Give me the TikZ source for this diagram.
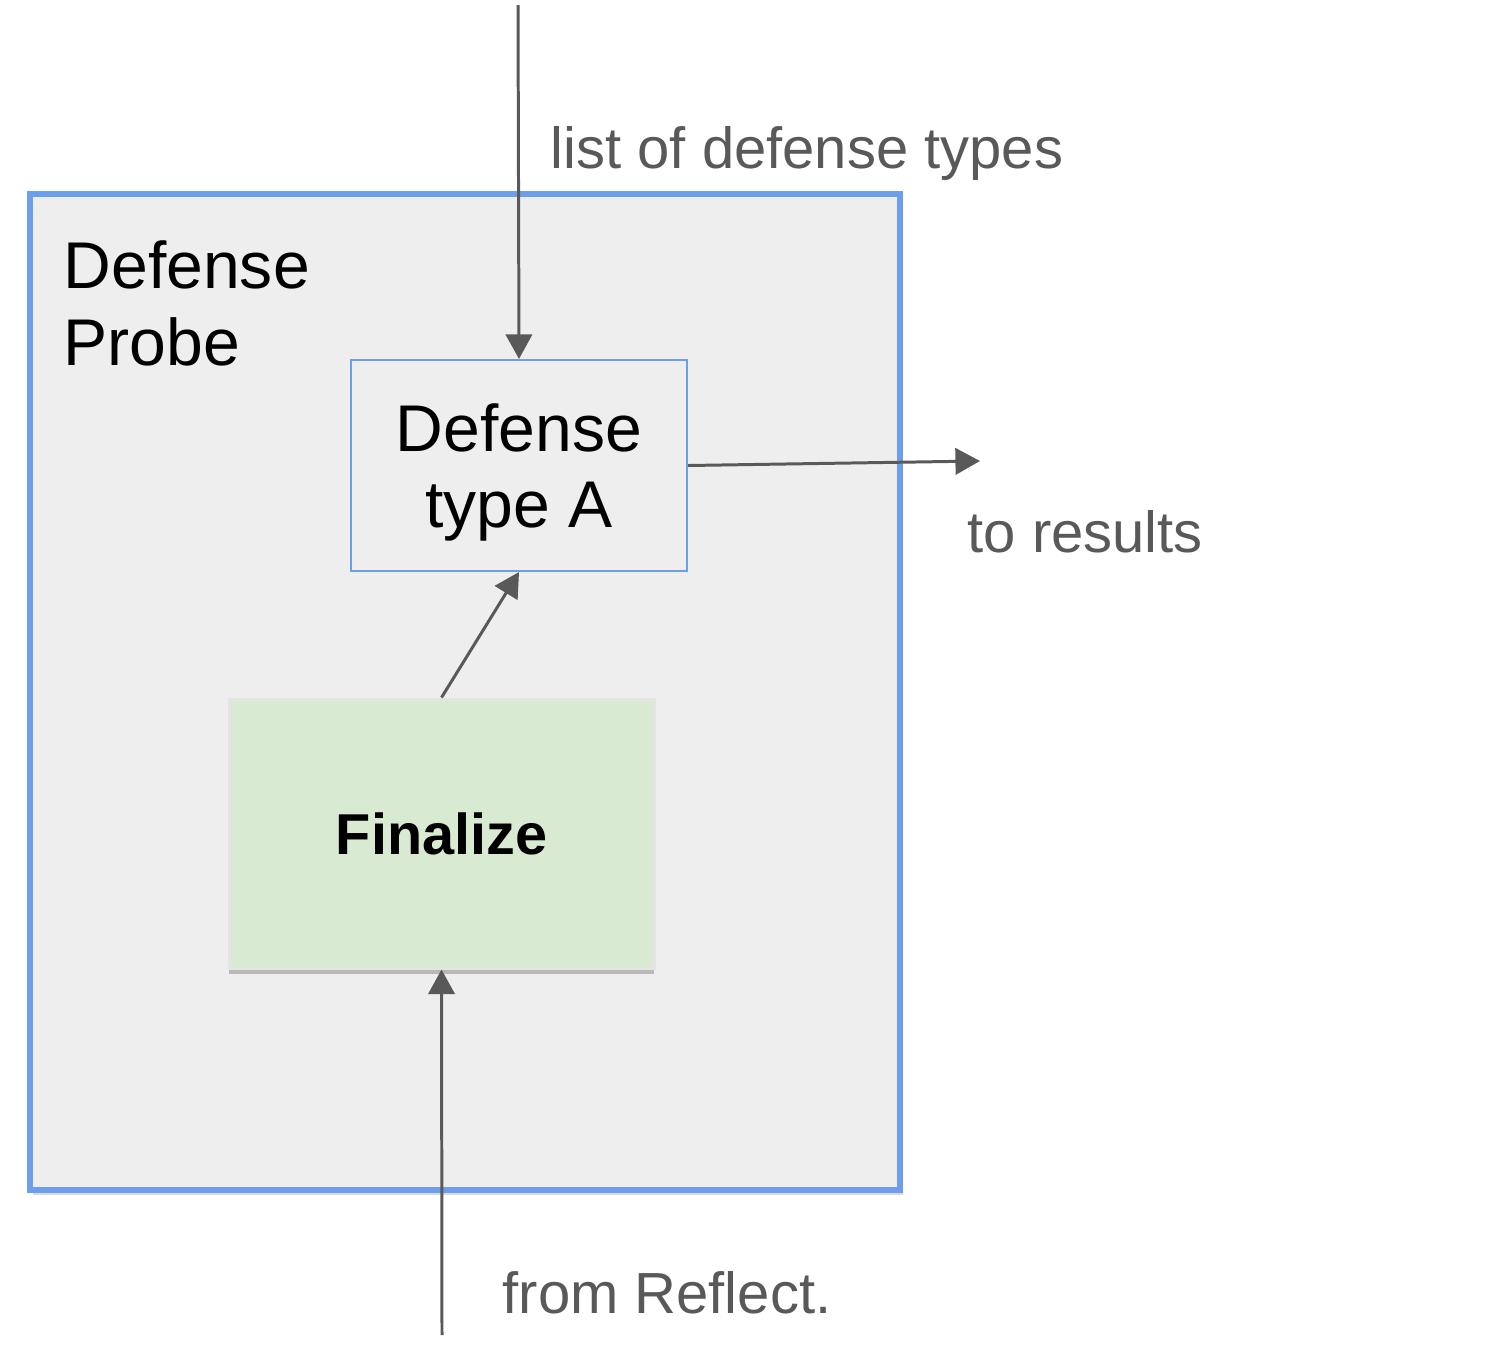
\documentclass[tikz,border=0pt]{standalone}
\usepackage{fontspec}
\setmainfont{Liberation Sans}
\usetikzlibrary{arrows.meta, positioning, shadows}

\definecolor{probeblue}{HTML}{6D9EEB}
\definecolor{probegray}{HTML}{EEEEEE}
\definecolor{finalgreen}{HTML}{D9EAD3}
\definecolor{finaledge}{HTML}{E4E4E4}
\definecolor{arrowgray}{HTML}{595959}

\begin{document}
\begin{tikzpicture}[x=0.1mm, y=-0.1mm]
        % Setup the styles for the boxes and arrows
        \tikzset{probe style/.style={draw=probeblue, line width=1.7pt,
                                     fill=probegray, minimum width=87mm,
                                     minimum height=99.6mm, inner sep=0pt,
                                     drop shadow={shadow xshift=0.3mm, shadow yshift=-0.5mm,
                                                  opacity=0.15, fill=black, draw=none}},
                 type style/.style={draw=probeblue, line width=0.6pt,
                                    fill=probegray, minimum width=33.6mm,
                                    minimum height=21.1mm, align=center,
                                    font=\fontsize{18.8}{21.8}\selectfont},
                 final style/.style={draw=finaledge, line width=0.85pt,
                                     fill=finalgreen, minimum width=42.5mm,
                                     minimum height=26.9mm,
                                     font=\fontsize{16.4}{19}\selectfont\bfseries,
                                     drop shadow={shadow xshift=0pt, shadow yshift=-0.6mm,
                                                  opacity=0.22, fill=black, draw=none}},
                 label style/.style={text=arrowgray, inner sep=0pt, anchor=base west,
                                     font=\fontsize{16.5}{19}\selectfont},
                 flow/.style={draw=arrowgray, line width=0.85pt,
                              -{Triangle[length=7pt, width=7.5pt]}}}

        \useasboundingbox (0,0) rectangle (1498,1361);

        % Draw the boxes
        \node[probe style] at (465, 692) (probe) {};
        \node[anchor=north west, inner sep=0pt, align=left,
              font=\fontsize{18.8}{21.8}\selectfont] at (63, 240) (probetitle) {Defense\\Probe};
        \node[type style] at (519, 465.5) (typeA) {\rule{0pt}{17.5pt}Defense\\type A};
        \node[final style] at (441.5, 833.5) (finalize) {Finalize};

        % Loose ends of the arrows
        \coordinate (listin) at (518, 5);
        \coordinate (resultsout) at (980, 461);
        \coordinate (reflectin) at (442, 1335);

        % Connect the boxes with arrows
        \draw[flow] (listin) -- (typeA.north);
        \draw[flow] (typeA.east) -- (resultsout);
        \draw[flow] (finalize.north) -- (typeA.south);
        \draw[flow] (reflectin) -- (finalize.south);

        % Labels of the arrows
        \node[label style] at (550, 168) (listlabel) {list of defense types};
        \node[label style] at (967, 552) (resultslabel) {to results};
        \node[label style] at (502, 1313) (reflectlabel) {from Reflect.};
\end{tikzpicture}
\end{document}
